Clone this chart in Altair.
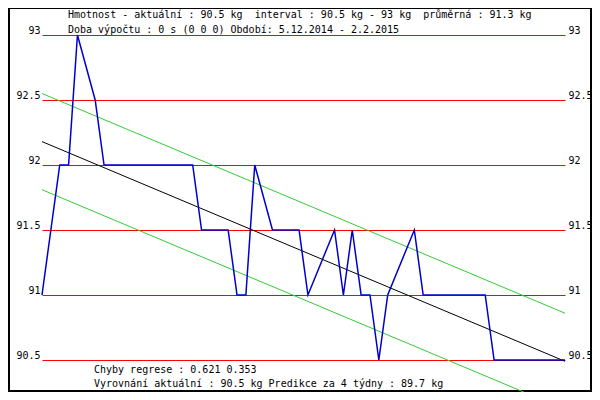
import altair as alt
import pandas as pd

# Období 5.12.2014 - 2.2.2015, osa x = dny od 5.12.2014
DAYS = [0, 2, 3, 4, 6, 7, 17, 18, 21, 22, 23, 24, 26, 29, 30, 33, 34, 35,
        36, 37, 38, 39, 42, 43, 50, 51, 59]
WEIGHTS = [91, 92, 92, 93, 92.5, 92, 92, 91.5, 91.5, 91, 91, 92, 91.5, 91.5,
           91, 91.5, 91, 91.5, 91, 91, 90.5, 91, 91.5, 91, 91, 90.5, 90.5]

# Regresní přímka a pásmo chyby
TREND_DAYS = [0, 59]
TREND = [92.18, 90.49]
UPPER = [92.55, 90.86]
LOWER = [91.81, 90.12]

TICKS = [90.5, 91, 91.5, 92, 92.5, 93]

HEADER = [
    "Hmotnost - aktuální : 90.5 kg \u00a0interval : 90.5 kg - 93 kg \u00a0průměrná : 91.3 kg",
    "Doba výpočtu : 0 s (0 0 0) Období: 5.12.2014 - 2.2.2015",
]
FOOTER = [
    "Chyby regrese : 0.621 0.353",
    "Vyrovnání aktuální : 90.5 kg Predikce za 4 týdny : 89.7 kg",
]

FONT = "DejaVu Sans Mono"
W, H = 523, 325
# celkem 584 x 384, aby se to i s okrajem stránky vešlo do 600 x 400
PAD = {"left": 34, "top": 27, "right": 27, "bottom": 32}

X = alt.X("day:Q", scale=alt.Scale(domain=[0, 59], nice=False, zero=False), axis=None)
Y_SCALE = alt.Scale(domain=[90.5, 93], nice=False, zero=False)


def y_enc(axis=None):
    if axis is None:
        return alt.Y("kg:Q", scale=Y_SCALE, axis=None)
    return alt.Y("kg:Q", scale=Y_SCALE, axis=axis)


def frame_rect(x, x2, y, y2, color):
    return alt.Chart(pd.DataFrame({"a": [0]})).mark_rect(color=color).encode(
        x=alt.value(x), x2=alt.value(x2), y=alt.value(y), y2=alt.value(y2)
    )


# rámeček (souřadnice vůči ploše grafu)
frame = [
    frame_rect(-34, -32, -27, 357, "black"),
    frame_rect(-34, 550, -27, -26, "black"),
    frame_rect(548, 550, -27, 357, "black"),
    frame_rect(-34, 550, 355, 357, "black"),
]

left_axis = alt.Axis(
    values=TICKS, format="~g", orient="left", grid=True, gridColor="#ff0000",
    gridWidth=1, gridOpacity=1, ticks=False, tickSize=0, domain=False, labelPadding=2,
    labelFont=FONT, labelFontSize=10, labelColor="black", labelBaseline="alphabetic",
    labelOffset=-2, title=None,
)
right_axis = alt.Axis(
    values=TICKS, format="~g", orient="right", grid=False, ticks=False, tickSize=0,
    domain=False, labelPadding=3, labelAlign="left", labelFont=FONT, labelFontSize=10,
    labelColor="black", labelBaseline="alphabetic", labelOffset=-2, title=None,
)

trend_df = pd.DataFrame({"day": TREND_DAYS, "kg": TREND})
upper_df = pd.DataFrame({"day": TREND_DAYS, "kg": UPPER})
lower_df = pd.DataFrame({"day": TREND_DAYS, "kg": LOWER})
weight_df = pd.DataFrame({"day": DAYS, "kg": WEIGHTS})

trend = alt.Chart(trend_df).mark_line(color="black", strokeWidth=1).encode(x=X, y=y_enc(left_axis))
upper = alt.Chart(upper_df).mark_line(color="#33cc33", strokeWidth=1).encode(x=X, y=y_enc())
lower = alt.Chart(lower_df).mark_line(color="#33cc33", strokeWidth=1).encode(x=X, y=y_enc())
weight = alt.Chart(weight_df).mark_line(color="#0000cc", strokeWidth=1.5).encode(x=X, y=y_enc(right_axis))


def text_block(lines, x, y0, step):
    df = pd.DataFrame({"t": lines})
    return [
        alt.Chart(df.iloc[[i]]).mark_text(
            align="left", baseline="alphabetic", font=FONT, fontSize=10, color="black"
        ).encode(x=alt.value(x), y=alt.value(y0 + i * step), text="t:N")
        for i in range(len(lines))
    ]


texts = text_block(HEADER, 26, -17.5, 15) + text_block(FOOTER, 52, 337.5, 14)

chart = (
    alt.layer(*frame, trend, upper, lower, weight, *texts)
    .resolve_axis(y="independent")
    .properties(width=W, height=H, padding=PAD, autosize=alt.AutoSizeParams(type="none"))
    .configure_view(stroke=None)
)

chart.save("out.html", embed_options={"renderer": "svg", "actions": False})
